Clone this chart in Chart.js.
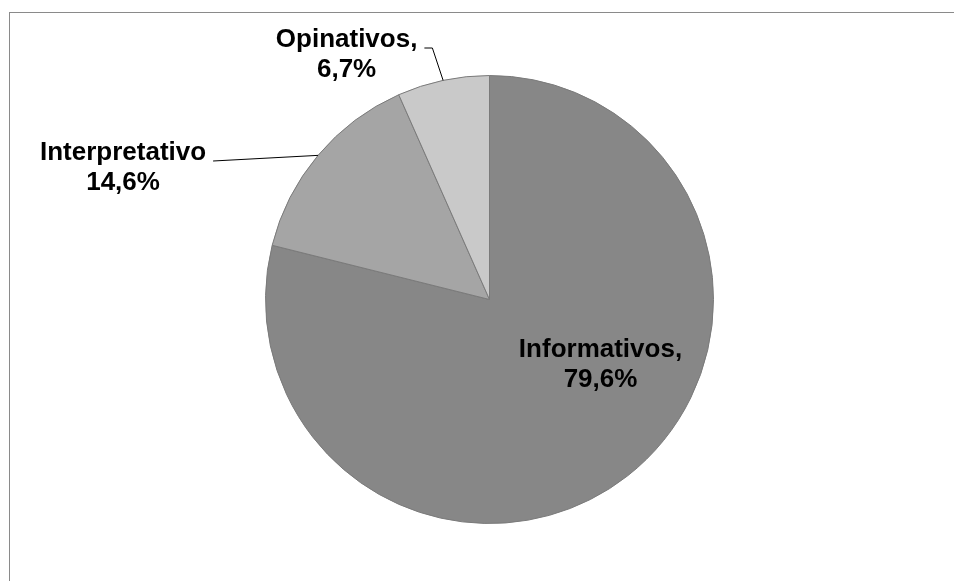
<!DOCTYPE html>
<html>
<head>
<meta charset="utf-8">
<script src="https://cdn.jsdelivr.net/npm/chart.js@4.4.1/dist/chart.umd.min.js"></script>
<style>
  html, body { margin: 0; padding: 0; background: #ffffff; }
  #wrap { position: relative; width: 954px; height: 581px; overflow: hidden; }
  #frame { position: absolute; left: 9px; top: 12px; right: -5px; bottom: -5px;
           border-top: 1px solid #8a8a8a; border-left: 1px solid #8a8a8a; pointer-events: none; }
  canvas { position: absolute; left: 0; top: 0; }
</style>
</head>
<body>
<div id="wrap">
  <canvas id="c" width="954" height="581"></canvas>
  <div id="frame"></div>
</div>
<script>
const categories = ['Informativos', 'Interpretativo', 'Opinativos'];
const values = [79.6, 14.6, 6.7];
const nameSeparators = [',', '', ','];
const valueLabels = ['79,6%', '14,6%', '6,7%'];
const sliceColors = ['#878787', '#a5a5a5', '#c9c9c9'];

// label block centre, in units of the pie radius relative to the pie centre
const labelOffsets = [[0.4955, 0.292], [-1.636, -0.587], [-0.638, -1.0915]];

const labelPlugin = {
  id: 'sliceLabels',
  afterDatasetsDraw(chart) {
    const ctx = chart.ctx;
    const meta = chart.getDatasetMeta(0);
    const fontSize = 26;
    const lineH = 30;
    ctx.save();
    ctx.font = 'bold ' + fontSize + 'px "Liberation Sans", Arial, sans-serif';
    ctx.fillStyle = '#000000';
    ctx.textAlign = 'center';
    ctx.textBaseline = 'middle';
    meta.data.forEach((arc, i) => {
      const r = arc.outerRadius;
      const cx = arc.x, cy = arc.y;
      const lx = cx + labelOffsets[i][0] * r;
      const ly = cy + labelOffsets[i][1] * r;
      const line1 = categories[i] + nameSeparators[i];
      const line2 = valueLabels[i];
      ctx.fillText(line1, lx, ly - lineH / 2);
      ctx.fillText(line2, lx, ly + lineH / 2);
      if (i > 0) {
        const mid = (arc.startAngle + arc.endAngle) / 2;
        const ex = cx + Math.cos(mid) * r;
        const ey = cy + Math.sin(mid) * r;
        const w = ctx.measureText(line1).width;
        const sx = lx + w / 2 + 7;
        const sy = ly - lineH / 2 + 8;
        ctx.beginPath();
        ctx.strokeStyle = '#000000';
        ctx.lineWidth = 1;
        ctx.moveTo(sx, sy);
        if (i === 2) {
          ctx.lineTo(sx + 8, sy);
        }
        ctx.lineTo(ex, ey);
        ctx.stroke();
      }
    });
    ctx.restore();
  }
};

new Chart(document.getElementById('c'), {
  type: 'pie',
  data: {
    labels: categories,
    datasets: [{
      data: values,
      backgroundColor: sliceColors,
      borderColor: '#7a7a7a',
      borderWidth: 1
    }]
  },
  options: {
    responsive: false,
    animation: false,
    devicePixelRatio: 1,
    layout: { padding: { left: 265, right: 240, top: 75, bottom: 57 } },
    plugins: {
      legend: { display: false },
      tooltip: { enabled: false },
      title: { display: false }
    }
  },
  plugins: [labelPlugin]
});
</script>
</body>
</html>
